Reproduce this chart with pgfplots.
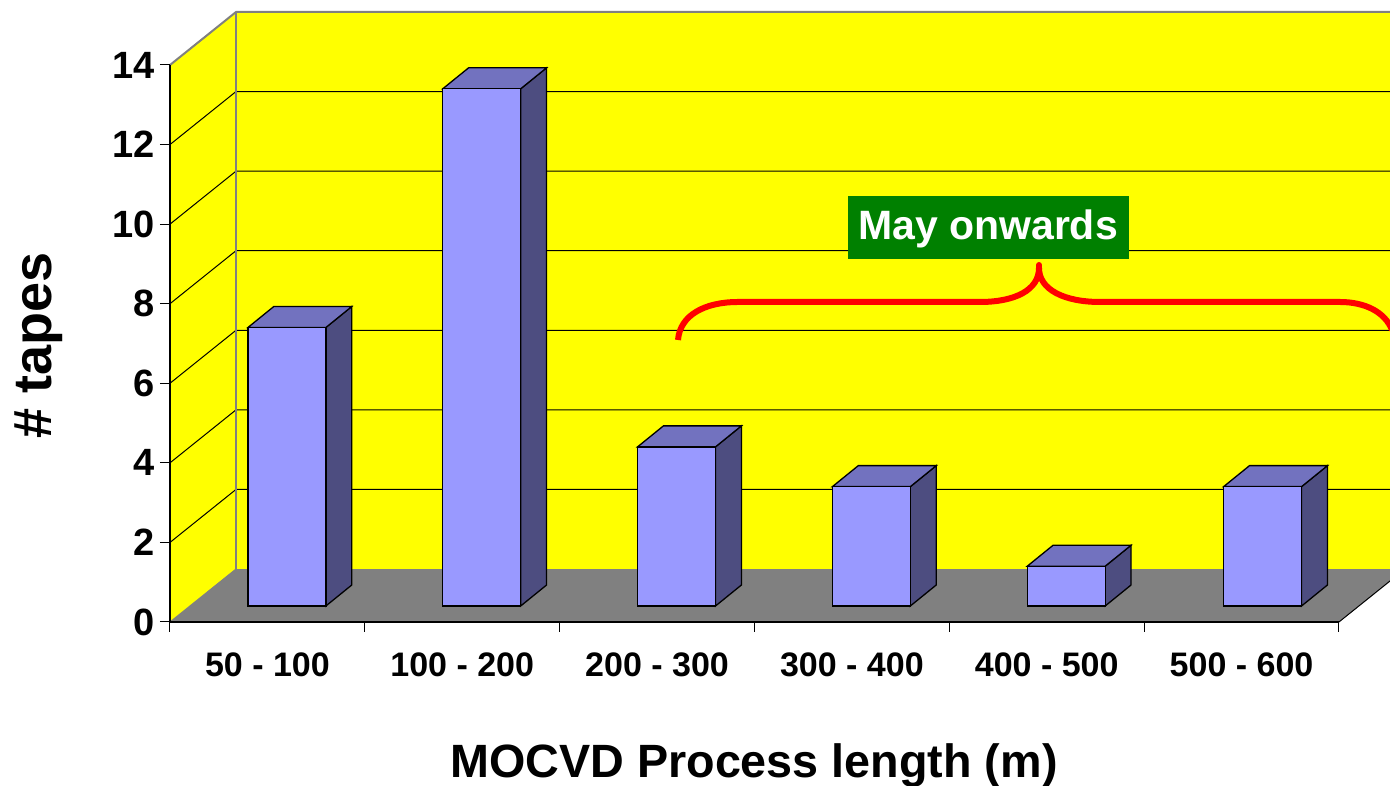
\documentclass[border=0pt]{standalone}
\usepackage{pgfplots}
\usepackage{fontspec}
\setmainfont{Liberation Sans}
\pgfplotsset{compat=1.18}
\definecolor{wallyellow}{RGB}{255,255,0}
\definecolor{bracered}{RGB}{255,0,0}
\definecolor{barfront}{HTML}{9999FF}
\definecolor{barside}{HTML}{4D4D80}
\definecolor{bartop}{HTML}{7272BF}
\definecolor{floorgray}{HTML}{808080}
\definecolor{boxgreen}{HTML}{008000}
\begin{document}
\begin{tikzpicture}[x=1pt,y=1pt]
\clip[use as bounding box] (0,0) rectangle (1390,786);
\begin{axis}[
  at={(170pt,164pt)}, anchor=south west,
  scale only axis, width=1169pt, height=557pt,
  xmin=-0.5, xmax=5.5, ymin=0, ymax=14,
  clip=false, axis on top=true,
  axis lines=left,
  axis line style={-,black,line width=1.2pt},
  tick align=outside, major tick length=10pt,
  tick style={black,line width=1pt},
  xtick={-0.5,0.5,1.5,2.5,3.5,4.5,5.5},
  x tick label as interval,
  xticklabels={50 - 100,100 - 200,200 - 300,300 - 400,400 - 500,500 - 600},
  ytick={0,2,4,6,8,10,12,14},
  /pgf/number format/assume math mode=true,
  xticklabel style={font=\fontsize{34}{36}\selectfont\bfseries, yshift=-17pt},
  yticklabel style={font=\fontsize{38}{40}\selectfont\bfseries, xshift=-2pt},
  xlabel={MOCVD Process length (m)},
  ylabel={\# tapes},
  xlabel style={font=\fontsize{46.7}{50}\selectfont\bfseries, at={(axis description cs:0.4996,-0.258)}, anchor=center},
  ylabel style={font=\fontsize{54}{58}\selectfont\bfseries, at={(axis description cs:-0.1125,0.497)}, anchor=center, rotate=0},
]
% walls and floor
\addplot[fill=wallyellow,draw=none,forget plot] coordinates {(-0.5,0)(-0.5,14)(-0.1612,15.332)(-0.1612,1.332)} --cycle;
\addplot[fill=wallyellow,draw=none,forget plot] coordinates {(-0.1612,1.332)(-0.1612,15.332)(5.8388,15.332)(5.8388,1.332)} --cycle;
\addplot[fill=floorgray,draw=none,forget plot] coordinates {(-0.5,0)(5.5,0)(5.8388,1.332)(-0.1612,1.332)} --cycle;
% grid lines
\addplot[black,line width=1pt,forget plot] coordinates {(-0.5,2)(-0.1612,3.332)(5.8388,3.332)};
\addplot[black,line width=1pt,forget plot] coordinates {(-0.5,4)(-0.1612,5.332)(5.8388,5.332)};
\addplot[black,line width=1pt,forget plot] coordinates {(-0.5,6)(-0.1612,7.332)(5.8388,7.332)};
\addplot[black,line width=1pt,forget plot] coordinates {(-0.5,8)(-0.1612,9.332)(5.8388,9.332)};
\addplot[black,line width=1pt,forget plot] coordinates {(-0.5,10)(-0.1612,11.332)(5.8388,11.332)};
\addplot[black,line width=1pt,forget plot] coordinates {(-0.5,12)(-0.1612,13.332)(5.8388,13.332)};
% wall outlines
\addplot[floorgray,line width=2pt,forget plot] coordinates {(-0.5,14)(-0.1612,15.332)(5.8388,15.332)};
\addplot[floorgray,line width=2pt,forget plot] coordinates {(-0.1612,15.332)(-0.1612,1.332)};
\addplot[floorgray,line width=1pt,forget plot] coordinates {(-0.5,0)(-0.1612,1.332)};
\addplot[black,line width=1pt,forget plot] coordinates {(5.5,0)(5.8388,1.332)};
% bar side faces
\addplot[fill=barside,draw=black,line width=1.3pt,forget plot] coordinates {(0.3,0.402)(0.433,0.93)(0.433,7.93)(0.3,7.402)} --cycle;
\addplot[fill=barside,draw=black,line width=1.3pt,forget plot] coordinates {(1.3,0.402)(1.433,0.93)(1.433,13.93)(1.3,13.402)} --cycle;
\addplot[fill=barside,draw=black,line width=1.3pt,forget plot] coordinates {(2.3,0.402)(2.433,0.93)(2.433,4.93)(2.3,4.402)} --cycle;
\addplot[fill=barside,draw=black,line width=1.3pt,forget plot] coordinates {(3.3,0.402)(3.433,0.93)(3.433,3.93)(3.3,3.402)} --cycle;
\addplot[fill=barside,draw=black,line width=1.3pt,forget plot] coordinates {(4.3,0.402)(4.433,0.93)(4.433,1.93)(4.3,1.402)} --cycle;
\addplot[fill=barside,draw=black,line width=1.3pt,forget plot] coordinates {(5.308,0.402)(5.441,0.93)(5.441,3.93)(5.308,3.402)} --cycle;
% bar top faces
\addplot[fill=bartop,draw=black,line width=1.3pt,forget plot] coordinates {(-0.1,7.402)(0.3,7.402)(0.433,7.93)(0.033,7.93)} --cycle;
\addplot[fill=bartop,draw=black,line width=1.3pt,forget plot] coordinates {(0.9,13.402)(1.3,13.402)(1.433,13.93)(1.033,13.93)} --cycle;
\addplot[fill=bartop,draw=black,line width=1.3pt,forget plot] coordinates {(1.9,4.402)(2.3,4.402)(2.433,4.93)(2.033,4.93)} --cycle;
\addplot[fill=bartop,draw=black,line width=1.3pt,forget plot] coordinates {(2.9,3.402)(3.3,3.402)(3.433,3.93)(3.033,3.93)} --cycle;
\addplot[fill=bartop,draw=black,line width=1.3pt,forget plot] coordinates {(3.9,1.402)(4.3,1.402)(4.433,1.93)(4.033,1.93)} --cycle;
\addplot[fill=bartop,draw=black,line width=1.3pt,forget plot] coordinates {(4.908,3.402)(5.308,3.402)(5.441,3.93)(5.041,3.93)} --cycle;
% bar front faces: the data
\addplot[ybar,bar width=78pt,bar shift=19.6pt,yshift=16pt,fill=barfront,draw=black,line width=1.3pt] coordinates {(0,7)(1,13)(2,4)(3,3)(4,1)(5.008,3)};
\end{axis}
% annotation
\draw[bracered,line width=6pt,line cap=butt] (678,446) .. controls (680,471) and (705,484) .. (738,484) -- (980,484) .. controls (1015,484) and (1039,496) .. (1039,518);
\draw[bracered,line width=6pt,line cap=round] (1039,518) -- (1039,521);
\draw[bracered,line width=6pt] (1039,518) .. controls (1039,496) and (1065,484) .. (1100,484) -- (1340,484) .. controls (1365,484) and (1385,474) .. (1392,456);
\fill[boxgreen] (848,527) rectangle (1129,590);
\node[text=white,font=\fontsize{41}{44}\selectfont\bfseries,anchor=center] at (988,557) {May onwards};
\end{tikzpicture}
\end{document}
